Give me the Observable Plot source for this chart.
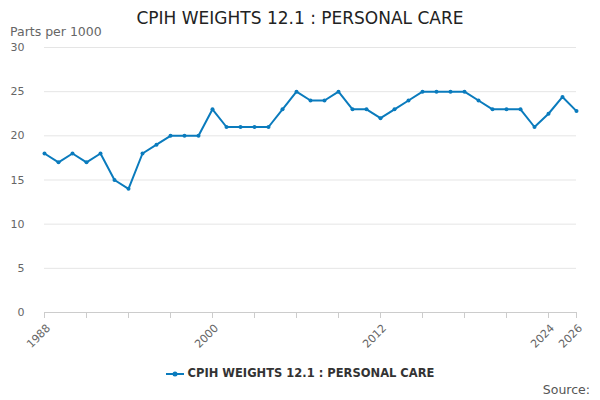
<!DOCTYPE html>
<html><head>
<script src="https://cdn.jsdelivr.net/npm/d3@7"></script>
<script src="https://cdn.jsdelivr.net/npm/@observablehq/plot@0.6"></script>
<style>
body{margin:0;font-family:"DejaVu Sans",sans-serif;}
#wrap{position:relative;width:600px;height:400px;overflow:hidden}
.t{position:absolute;white-space:nowrap}
</style></head><body>
<div id="wrap">
<div class="t" style="top:8px;left:0;width:600px;text-align:center;font-size:17px;color:#222">CPIH WEIGHTS 12.1 : PERSONAL CARE</div>
<div class="t" style="top:24px;left:10px;font-size:12.5px;color:#666">Parts per 1000</div>
<div class="t" style="top:366px;left:0;width:600px;text-align:center;font-size:11.5px;font-weight:bold;color:#333"><svg width="18" height="10" style="vertical-align:middle"><line x1="0" y1="5" x2="18" y2="5" stroke="#0a7bbd" stroke-width="2"/><circle cx="9" cy="5" r="2.5" fill="#0a7bbd"/></svg> CPIH WEIGHTS 12.1 : PERSONAL CARE</div>
<div class="t" style="top:382px;right:10px;font-size:12.5px;color:#555">Source:</div>
<div id="chart" style="position:absolute;top:0;left:0"></div>
</div>
<script>
const years = d3.range(1988, 2027);
const values = [18,17,18,17,18,15,14,18,19,20,20,20,23,21,21,21,21,23,25,24,24,25,23,23,22,23,24,25,25,25,25,24,23,23,23,21,22.5,24.4,22.8];
const labelYears = [1988,2000,2012,2024,2026];
const tickYears = d3.range(1988,2027,3).concat([2026]);
const data = years.map((y,i)=>({year:y,value:values[i]}));
const chart = Plot.plot({
  width:600,height:400,
  marginTop:47,marginBottom:88,marginLeft:44,marginRight:24,
  style:{fontFamily:"DejaVu Sans",fontSize:"11px",color:"#666"},
  x:{domain:[1988,2026]},
  y:{domain:[0,30]},
  marks:[
    Plot.gridY([0,5,10,15,20,25,30],{stroke:"#e5e5e5",strokeOpacity:1}),
    Plot.axisY([0,5,10,15,20,25,30],{tickSize:0,tickPadding:20,label:null}),
    Plot.ruleY([0],{stroke:"#ccc"}),
    Plot.axisX(tickYears,{tickSize:6,tickFormat:()=>"",label:null,stroke:"#ccc"}),
    Plot.axisX(labelYears,{tickSize:0,tickRotate:-45,tickFormat:d=>String(d),label:null,textAnchor:"end",dy:2,dx:4,fill:"#666"}),
    Plot.line(data,{x:"year",y:"value",stroke:"#0a7bbd",strokeWidth:2}),
    Plot.dot(data,{x:"year",y:"value",fill:"#0a7bbd",r:2})
  ]
});
document.getElementById("chart").appendChild(chart);
</script>
</body></html>
